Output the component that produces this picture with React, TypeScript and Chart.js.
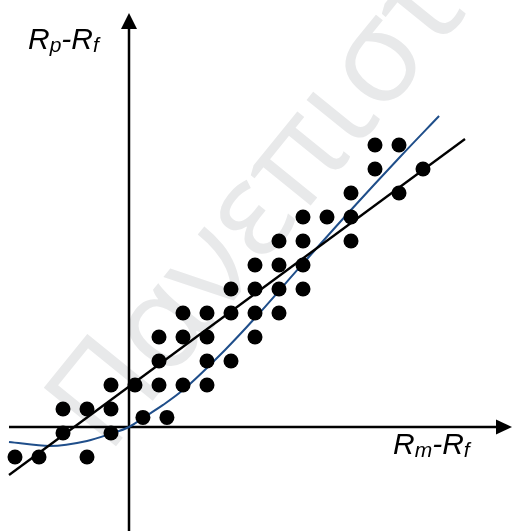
import React, { useEffect, useRef } from "react";
import { Chart, registerables } from "chart.js";

Chart.register(...registerables);

// Scatter dots (excess market return, excess portfolio return)
const dotX = [
  -4.75, -3.75, -1.75,
  -2.75, -0.75,
  0.58, 1.58,
  -2.75, -1.75, -0.75,
  -0.75, 0.25, 1.25, 2.25, 3.25,
  1.25, 3.25, 4.25,
  1.25, 2.25, 3.25, 5.25,
  2.25, 3.25, 4.25, 5.25, 6.25,
  4.25, 5.25, 6.25, 7.25,
  5.25, 6.25, 7.25,
  6.25, 7.25, 9.25,
  7.25, 8.25, 9.25,
  9.25, 11.25,
  10.25, 12.25,
  10.25, 11.25,
];
const dotY = [
  -1.25, -1.25, -1.25,
  -0.25, -0.25,
  0.4, 0.4,
  0.75, 0.75, 0.75,
  1.75, 1.75, 1.75, 1.75, 1.75,
  2.75, 2.75, 2.75,
  3.75, 3.75, 3.75, 3.75,
  4.75, 4.75, 4.75, 4.75, 4.75,
  5.75, 5.75, 5.75, 5.75,
  6.75, 6.75, 6.75,
  7.75, 7.75, 7.75,
  8.75, 8.75, 8.75,
  9.75, 9.75,
  10.75, 10.75,
  11.75, 11.75,
];

// Straight regression line (endpoints)
const lineX = [-5, 14];
const lineY = [-2, 12];

// Curved (market-timing) fit
const curveX = [-5.0, -3.29, -1.75, -0.79, 0, 0.58, 1.42, 2.25, 4.0, 5.25, 7.125, 9.21, 11.29, 12.92];
const curveY = [-0.625, -0.79, -0.58, -0.29, 0, 0.375, 0.92, 1.54, 3.21, 4.54, 6.67, 9.0, 11.25, 12.96];

// Axis extents (data units)
const xAxisStart = -5;
const yAxisBottom = -4.4;
const yAxisTop = 17.25;

const yLabelMain = ["R", "p", "-", "R", "f"];
const xLabelMain = ["R", "m", "-", "R", "f"];
const subFlags = [false, true, false, false, true];

const watermark = "Πανεπιστήμιο";

export default function App() {
  const ref = useRef<HTMLCanvasElement | null>(null);

  useEffect(() => {
    document.body.style.margin = "0";
    const canvas = ref.current;
    if (!canvas) return;

    const drawLabel = (ctx: CanvasRenderingContext2D, parts: string[], x: number, y: number) => {
      let cx = x;
      parts.forEach((p, i) => {
        const sub = subFlags[i];
        ctx.font = sub ? "italic 21px 'Liberation Sans', Arial, sans-serif" : "italic 30px 'Liberation Sans', Arial, sans-serif";
        ctx.fillText(p, cx, sub ? y + 3 : y);
        cx += ctx.measureText(p).width;
      });
    };

    const decor = {
      id: "decor",
      beforeDatasetsDraw(chart: any) {
        const ctx: CanvasRenderingContext2D = chart.ctx;
        const xs = chart.scales.x;
        const ys = chart.scales.y;
        // watermark
        ctx.save();
        ctx.translate(108, 456);
        ctx.rotate((-51 * Math.PI) / 180);
        ctx.font = "130px 'Open Sans', sans-serif";
        ctx.fillStyle = "#e8e9ea";
        ctx.textBaseline = "alphabetic";
        ctx.fillText(watermark, 0, 0);
        ctx.restore();

        const ox = xs.getPixelForValue(0);
        const oy = ys.getPixelForValue(0);
        const right = chart.width;
        ctx.save();
        ctx.strokeStyle = "#000";
        ctx.fillStyle = "#000";
        ctx.lineWidth = 2.5;
        // horizontal axis
        ctx.beginPath();
        ctx.moveTo(xs.getPixelForValue(xAxisStart), oy);
        ctx.lineTo(right - 12, oy);
        ctx.stroke();
        ctx.beginPath();
        ctx.moveTo(right, oy);
        ctx.lineTo(right - 16, oy - 7.5);
        ctx.lineTo(right - 16, oy + 7.5);
        ctx.closePath();
        ctx.fill();
        // vertical axis
        const top = ys.getPixelForValue(yAxisTop);
        ctx.beginPath();
        ctx.moveTo(ox, ys.getPixelForValue(yAxisBottom));
        ctx.lineTo(ox, top + 12);
        ctx.stroke();
        ctx.beginPath();
        ctx.moveTo(ox, top);
        ctx.lineTo(ox - 8, top + 16);
        ctx.lineTo(ox + 8, top + 16);
        ctx.closePath();
        ctx.fill();
        ctx.restore();
      },
      afterDraw(chart: any) {
        const ctx: CanvasRenderingContext2D = chart.ctx;
        ctx.save();
        ctx.fillStyle = "#000";
        ctx.textBaseline = "alphabetic";
        drawLabel(ctx, yLabelMain, 28, 49);
        drawLabel(ctx, xLabelMain, 393, 454);
        ctx.restore();
      },
    };

    const chart = new Chart(canvas, {
      type: "scatter",
      data: {
        datasets: [
          {
            label: "dots",
            data: dotX.map((x, i) => ({ x, y: dotY[i] })),
            backgroundColor: "#000",
            borderWidth: 0,
            pointRadius: 7.5,
            pointHoverRadius: 7.5,
          },
          {
            label: "line",
            data: lineX.map((x, i) => ({ x, y: lineY[i] })),
            showLine: true,
            borderColor: "#000",
            borderWidth: 2.3,
            pointRadius: 0,
          },
          {
            label: "curve",
            data: curveX.map((x, i) => ({ x, y: curveY[i] })),
            showLine: true,
            borderColor: "#1f4e8a",
            borderWidth: 2,
            pointRadius: 0,
            cubicInterpolationMode: "monotone",
          } as any,
        ],
      },
      options: {
        responsive: false,
        animation: false,
        maintainAspectRatio: false,
        layout: { padding: 0, autoPadding: false },
        plugins: { legend: { display: false }, tooltip: { enabled: false } },
        scales: {
          x: { type: "linear", display: false, min: -129 / 24, max: (512 - 129) / 24 },
          y: { type: "linear", display: false, min: -(531 - 427) / 24, max: 427 / 24 },
        },
      },
      plugins: [decor],
    });
    return () => chart.destroy();
  }, []);

  return (
    <div style={{ width: 512, height: 531 }}>
      <canvas ref={ref} width={512} height={531} style={{ display: "block" }} />
    </div>
  );
}
